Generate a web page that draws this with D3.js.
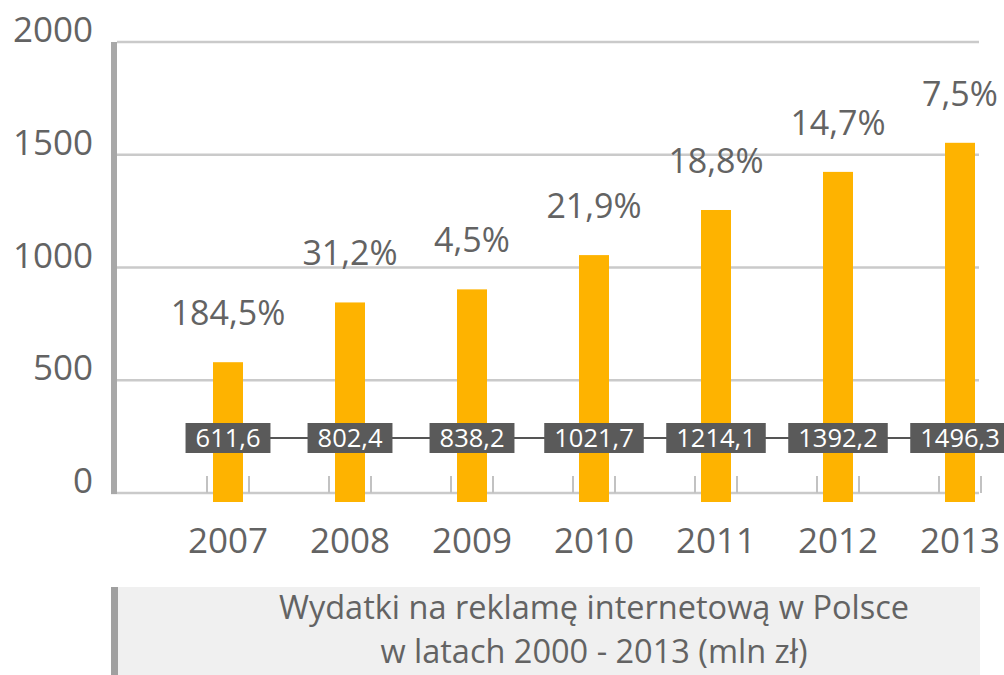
<!DOCTYPE html>
<html lang="pl">
<head>
<meta charset="UTF-8" />
<title>Wydatki na reklamę internetową</title>
<script src="https://cdn.jsdelivr.net/npm/d3@7"></script>
<style>
  html, body { margin: 0; padding: 0; background: #fff; }
  svg { display: block; font-family: "Open Sans", "Noto Sans", sans-serif; }
</style>
</head>
<body>
<div id="chart"></div>
<script>
  // data
  var years = ["2007", "2008", "2009", "2010", "2011", "2012", "2013"];
  var barValues = [580, 845, 903, 1055, 1255, 1424, 1553];   // bar heights as drawn
  var valueLabels = ["611,6", "802,4", "838,2", "1021,7", "1214,1", "1392,2", "1496,3"];
  var growthLabels = ["184,5%", "31,2%", "4,5%", "21,9%", "18,8%", "14,7%", "7,5%"];
  var yTicks = [0, 500, 1000, 1500, 2000];
  var captionLines = ["Wydatki na reklamę internetową w Polsce", "w latach 2000 - 2013 (mln zł)"];

  var width = 1004;
  var height = 675;
  var barWidth = 30;
  var textColor = "#636363";
  var gridColor = "#cacaca";

  var svg = d3.select("#chart")
              .append("svg")
              .attr("width", width)
              .attr("height", height);

  var x = d3.scalePoint()
            .domain(years)
            .range([228, 960]);

  var y = d3.scaleLinear()
            .domain([0, 2000])
            .range([493, 42]);

  // gridlines
  svg.selectAll("line.grid")
     .data(yTicks)
     .enter()
     .append("line")
     .attr("class", "grid")
     .attr("x1", function(d){ return d == 0 ? 111 : 117; })
     .attr("x2", 979)
     .attr("y1", function(d){ return y(d); })
     .attr("y2", function(d){ return y(d); })
     .attr("stroke", gridColor)
     .attr("stroke-width", 2.5);

  // y labels
  svg.selectAll("text.ylab")
     .data(yTicks)
     .enter()
     .append("text")
     .attr("class", "ylab")
     .attr("x", 93)
     .attr("y", function(d){ return y(d); })
     .attr("text-anchor", "end")
     .attr("font-size", "35px")
     .attr("fill", textColor)
     .text(function(d){ return d; });

  // thick left axis bar
  svg.append("rect")
     .attr("x", 111)
     .attr("y", y(2000))
     .attr("width", 6)
     .attr("height", y(0) - y(2000) + 1)
     .attr("fill", "#a8a8a8");

  // small ticks on both sides of each bar
  years.forEach(function(yr){
    [-21, 21].forEach(function(dx){
      svg.append("line")
         .attr("x1", x(yr) + dx)
         .attr("x2", x(yr) + dx)
         .attr("y1", y(0) - 17)
         .attr("y2", y(0))
         .attr("stroke", "#c2c2c2")
         .attr("stroke-width", 2);
    });
  });

  // bars
  svg.selectAll("rect.bar")
     .data(barValues)
     .enter()
     .append("rect")
     .attr("class", "bar")
     .attr("x", function(d, i){ return x(years[i]) - barWidth / 2; })
     .attr("y", function(d){ return y(d); })
     .attr("width", barWidth)
     .attr("height", function(d){ return y(0) - y(d) + 9; })
     .attr("fill", "#feb300");

  // growth labels above bars
  svg.selectAll("text.growth")
     .data(growthLabels)
     .enter()
     .append("text")
     .attr("class", "growth")
     .attr("x", function(d, i){ return x(years[i]); })
     .attr("y", function(d, i){ return y(barValues[i]) - 37; })
     .attr("text-anchor", "middle")
     .attr("font-size", "34px")
     .attr("fill", textColor)
     .text(function(d){ return d; });

  // connector line behind value boxes
  var boxY = y(0) - 55;
  svg.append("line")
     .attr("x1", x(years[0]))
     .attr("x2", x(years[years.length - 1]))
     .attr("y1", boxY)
     .attr("y2", boxY)
     .attr("stroke", "#555")
     .attr("stroke-width", 2);

  var boxes = svg.selectAll("g.valbox")
                 .data(valueLabels)
                 .enter()
                 .append("g")
                 .attr("class", "valbox")
                 .attr("transform", function(d, i){ return "translate(" + x(years[i]) + "," + boxY + ")"; });

  var boxRects = boxes.append("rect")
                      .attr("fill", "#5a5a5a");

  var boxTexts = boxes.append("text")
                      .attr("text-anchor", "middle")
                      .attr("y", 9)
                      .attr("font-size", "25.5px")
                      .attr("fill", "#fff")
                      .text(function(d){ return d; });

  boxTexts.each(function(d, i){
    var w = this.getComputedTextLength() + 20;
    d3.select(boxRects.nodes()[i])
      .attr("x", -w / 2)
      .attr("y", -15)
      .attr("width", w)
      .attr("height", 30);
  });

  // year labels
  svg.selectAll("text.year")
     .data(years)
     .enter()
     .append("text")
     .attr("class", "year")
     .attr("x", function(d){ return x(d); })
     .attr("y", 553)
     .attr("text-anchor", "middle")
     .attr("font-size", "35px")
     .attr("fill", textColor)
     .text(function(d){ return d; });

  // caption box
  svg.append("rect")
     .attr("x", 111)
     .attr("y", 587)
     .attr("width", 869)
     .attr("height", 90)
     .attr("fill", "#f0f0f0");
  svg.append("rect")
     .attr("x", 111)
     .attr("y", 587)
     .attr("width", 7)
     .attr("height", 90)
     .attr("fill", "#a0a0a0");

  svg.selectAll("text.caption")
     .data(captionLines)
     .enter()
     .append("text")
     .attr("class", "caption")
     .attr("x", 594)
     .attr("y", function(d, i){ return 619 + i * 44; })
     .attr("text-anchor", "middle")
     .attr("font-size", "32.5px")
     .attr("fill", textColor)
     .text(function(d){ return d; });
</script>
</body>
</html>
